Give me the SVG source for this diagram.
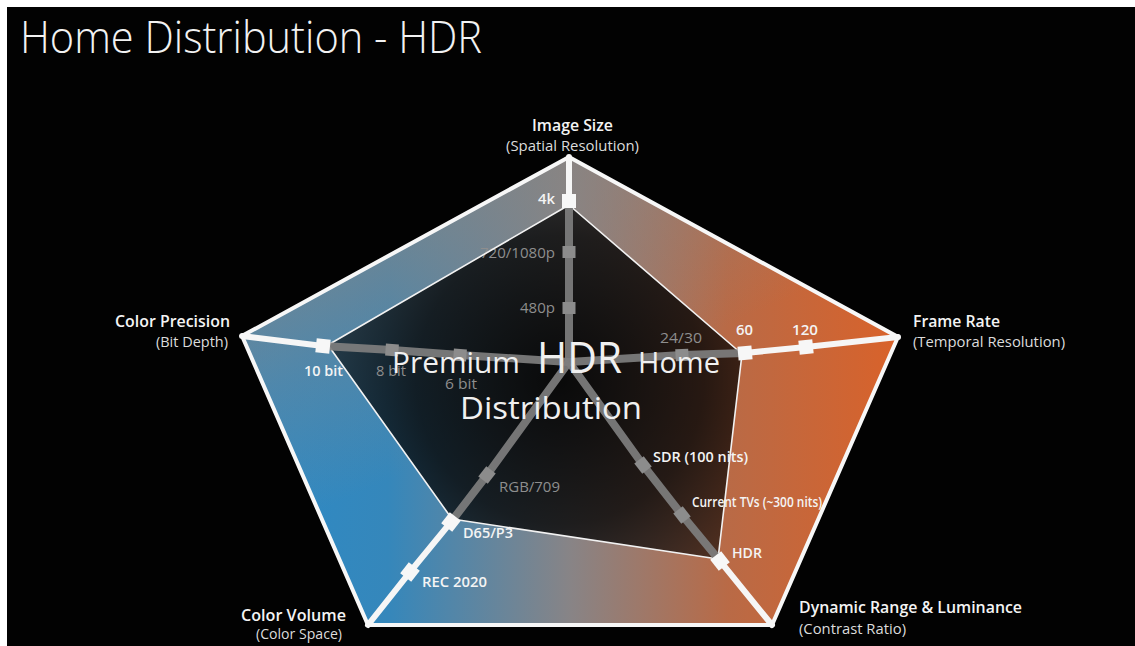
<svg xmlns="http://www.w3.org/2000/svg" xmlns:xlink="http://www.w3.org/1999/xlink" width="1135" height="646" viewBox="0 0 1135 646">
  <defs>
    <style>
      .ttl { font-family: "Open Sans", "Liberation Sans", sans-serif; font-weight: 300; fill: #f2f2f2; }
      .ax { font-family: "Open Sans", "Liberation Sans", sans-serif; font-weight: 600; fill: #f4f4f4; font-size: 16px; }
      .sub { font-family: "Open Sans", "Liberation Sans", sans-serif; font-weight: 400; fill: #dcdcdc; font-size: 14px; }
      .tw { font-family: "Open Sans", "Liberation Sans", sans-serif; font-weight: 600; fill: #f4f4f4; font-size: 13.5px; }
      .tg { font-family: "Open Sans", "Liberation Sans", sans-serif; font-weight: 400; fill: #8e8e8e; font-size: 14px; }
      .ctr { font-family: "Open Sans", "Liberation Sans", sans-serif; font-weight: 400; fill: #f0f0f0; }
      .gax { fill: none; stroke: #7e7e7e; stroke-width: 8; stroke-linejoin: round; opacity: 0.92; }
      .wax { fill: none; stroke: #f6f6f6; stroke-width: 6; stroke-linecap: round; }
      .mg { fill: #8c8c8c; }
      .mw { fill: #f7f7f7; }
    </style>
    <!-- horizontal colour sweep: blue on the left, grey mid, orange on the right -->
    <linearGradient id="outerFill" gradientUnits="userSpaceOnUse" x1="244" y1="0" x2="898" y2="0">
      <stop offset="0" stop-color="#2d8ac6"/>
      <stop offset="0.22" stop-color="#3587bb"/>
      <stop offset="0.5" stop-color="#888486"/>
      <stop offset="0.74" stop-color="#b96a46"/>
      <stop offset="1" stop-color="#d9622a"/>
    </linearGradient>
    <!-- greyish haze toward the upper left of the pentagon -->
    <linearGradient id="topHaze" gradientUnits="userSpaceOnUse" x1="420" y1="200" x2="520" y2="420">
      <stop offset="0" stop-color="#8a8480" stop-opacity="0.7"/>
      <stop offset="0.45" stop-color="#8a8480" stop-opacity="0.35"/>
      <stop offset="1" stop-color="#8a8480" stop-opacity="0"/>
    </linearGradient>
    <!-- darkening of the inner (current) polygon -->
    <radialGradient id="innerDark" gradientUnits="userSpaceOnUse" cx="560" cy="380" r="240">
      <stop offset="0" stop-color="#000" stop-opacity="0.93"/>
      <stop offset="0.6" stop-color="#000" stop-opacity="0.78"/>
      <stop offset="1" stop-color="#000" stop-opacity="0.55"/>
    </radialGradient>
    <rect id="mk" x="-7" y="-7" width="14" height="14"/>
    <rect id="mks" x="-6.5" y="-6" width="13" height="12"/>
  </defs>

  <!-- page -->
  <rect x="0" y="0" width="1135" height="646" fill="#ffffff"/>
  <rect x="7" y="7" width="1128" height="639" fill="#020202"/>

  <text class="ttl" x="20" y="53" font-size="45" textLength="462" lengthAdjust="spacingAndGlyphs">Home Distribution - HDR</text>

  <!-- outer pentagon: target capability -->
  <g id="outer">
    <polygon points="569,157 898,337 772,625 368,625 242,336" fill="url(#outerFill)"/>
    <polygon points="569,157 898,337 772,625 368,625 242,336" fill="url(#topHaze)"/>
  </g>

  <!-- inner polygon: current capability -->
  <g id="inner">
    <polygon points="569,205 742,354 718,559 452,519 328,345" fill="url(#innerDark)"/>
  </g>

  <!-- tick labels -->
  <g id="ticks">
    <text class="tw" x="538" y="204" textLength="17" lengthAdjust="spacingAndGlyphs">4k</text>
    <text class="tg" x="480" y="258" textLength="75" lengthAdjust="spacingAndGlyphs">720/1080p</text>
    <text class="tg" x="520" y="313" textLength="35" lengthAdjust="spacingAndGlyphs">480p</text>
    <text class="tw" x="304" y="376" textLength="39" lengthAdjust="spacingAndGlyphs">10 bit</text>
    <text class="tg" x="376" y="376" textLength="30" lengthAdjust="spacingAndGlyphs">8 bit</text>
    <text class="tg" x="445" y="389" textLength="32" lengthAdjust="spacingAndGlyphs">6 bit</text>
    <text class="tg" x="660" y="343" textLength="42" lengthAdjust="spacingAndGlyphs">24/30</text>
    <text class="tw" x="736" y="335" textLength="17" lengthAdjust="spacingAndGlyphs">60</text>
    <text class="tw" x="792" y="335" textLength="26" lengthAdjust="spacingAndGlyphs">120</text>
    <text class="tg" x="499" y="492" textLength="61" lengthAdjust="spacingAndGlyphs">RGB/709</text>
    <text class="tw" x="463" y="538" textLength="50" lengthAdjust="spacingAndGlyphs">D65/P3</text>
    <text class="tw" x="422" y="587" textLength="65" lengthAdjust="spacingAndGlyphs">REC 2020</text>
    <text class="tw" x="653" y="462" textLength="95" lengthAdjust="spacingAndGlyphs">SDR (100 nits)</text>
    <text class="tw" x="692" y="507" textLength="130" lengthAdjust="spacingAndGlyphs">Current TVs (~300 nits)</text>
    <text class="tw" x="732" y="558" textLength="30" lengthAdjust="spacingAndGlyphs">HDR</text>
  </g>

  <!-- axes and the outlines -->
  <g id="connectors">
    <polygon points="569,205 742,354 718,559 452,519 328,345" fill="none" stroke="#f2f2f2" stroke-width="1.6" stroke-linejoin="round"/>
    <!-- grey parts: centre to current level -->
    <polyline class="gax" points="569,362 569,203"/>
    <polyline class="gax" points="569,362 682,355 745,353"/>
    <polyline class="gax" points="569,362 643,465 682,515 720,561"/>
    <polyline class="gax" points="569,362 487,475 451,522"/>
    <polyline class="gax" points="569,362 460,355 392,350 323,346"/>
    <!-- white parts: current level to the target -->
    <polyline class="wax" points="569,200 569,157"/>
    <polyline class="wax" points="745,353 806,347 898,337"/>
    <polyline class="wax" points="720,561 772,625"/>
    <polyline class="wax" points="451,522 410,572 368,625"/>
    <polyline class="wax" points="323,346 242,336"/>
    <polygon points="569,157 898,337 772,625 368,625 242,336" fill="none" stroke="#f7f7f7" stroke-width="4" stroke-linejoin="miter"/>
  </g>

  <!-- tick markers -->
  <g id="markers">
    <use xlink:href="#mks" class="mg" transform="translate(569,252)"/>
    <use xlink:href="#mks" class="mg" transform="translate(569,308)"/>
    <use xlink:href="#mk" class="mw" transform="translate(569,201)"/>
    <use xlink:href="#mks" class="mg" transform="translate(682,355) rotate(-3)"/>
    <use xlink:href="#mk" class="mw" transform="translate(745,353) rotate(-5)"/>
    <use xlink:href="#mk" class="mw" transform="translate(806,347) rotate(-6)"/>
    <use xlink:href="#mks" class="mg" transform="translate(643,465) rotate(52)"/>
    <use xlink:href="#mks" class="mg" transform="translate(682,515) rotate(52)"/>
    <use xlink:href="#mk" class="mw" transform="translate(720,561) rotate(52)"/>
    <use xlink:href="#mks" class="mg" transform="translate(487,475) rotate(-52)"/>
    <use xlink:href="#mk" class="mw" transform="translate(451,522) rotate(-52)"/>
    <use xlink:href="#mk" class="mw" transform="translate(410,572) rotate(-52)"/>
    <use xlink:href="#mks" class="mg" transform="translate(460,355) rotate(4)"/>
    <use xlink:href="#mks" class="mg" transform="translate(392,350) rotate(4)"/>
    <use xlink:href="#mk" class="mw" transform="translate(323,346) rotate(6)"/>
  </g>

  <!-- axis titles -->
  <g id="axis-image-size">
    <text class="ax" x="532" y="131" textLength="81" lengthAdjust="spacingAndGlyphs">Image Size</text>
    <text class="sub" x="506" y="151" textLength="133" lengthAdjust="spacingAndGlyphs">(Spatial Resolution)</text>
  </g>
  <g id="axis-frame-rate">
    <text class="ax" x="913" y="327" textLength="87" lengthAdjust="spacingAndGlyphs">Frame Rate</text>
    <text class="sub" x="913" y="347" textLength="152" lengthAdjust="spacingAndGlyphs">(Temporal Resolution)</text>
  </g>
  <g id="axis-dynamic-range">
    <text class="ax" x="799" y="613" textLength="223" lengthAdjust="spacingAndGlyphs">Dynamic Range &amp; Luminance</text>
    <text class="sub" x="799" y="634" textLength="107" lengthAdjust="spacingAndGlyphs">(Contrast Ratio)</text>
  </g>
  <g id="axis-color-volume">
    <text class="ax" x="241" y="621" textLength="105" lengthAdjust="spacingAndGlyphs">Color Volume</text>
    <text class="sub" x="256" y="639" textLength="86" lengthAdjust="spacingAndGlyphs">(Color Space)</text>
  </g>
  <g id="axis-color-precision">
    <text class="ax" x="115" y="327" textLength="115" lengthAdjust="spacingAndGlyphs">Color Precision</text>
    <text class="sub" x="156" y="347" textLength="72" lengthAdjust="spacingAndGlyphs">(Bit Depth)</text>
  </g>

  <!-- centre caption -->
  <g id="caption">
    <text class="ctr" x="392" y="373" font-size="30" textLength="128" lengthAdjust="spacingAndGlyphs">Premium</text>
    <text class="ctr" x="537" y="373" font-size="43" textLength="85" lengthAdjust="spacingAndGlyphs">HDR</text>
    <text class="ctr" x="638" y="373" font-size="30" textLength="82" lengthAdjust="spacingAndGlyphs">Home</text>
    <text class="ctr" x="460" y="419" font-size="31" textLength="182" lengthAdjust="spacingAndGlyphs">Distribution</text>
  </g>
</svg>
